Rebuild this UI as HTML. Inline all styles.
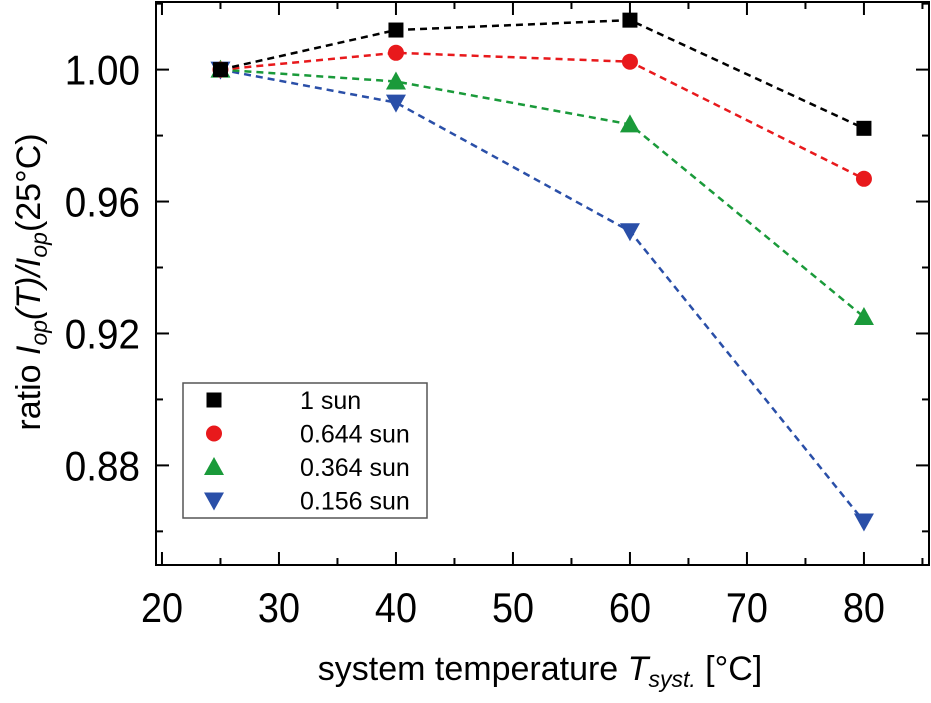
<!DOCTYPE html>
<html><head><meta charset="utf-8"><style>
body{margin:0;background:#fff}
svg text{font-family:"Liberation Sans",Arial,sans-serif}
</style></head><body>
<svg id="c" width="931" height="698" viewBox="0 0 931 698" xmlns="http://www.w3.org/2000/svg"></svg>
<script>
const temps=[25,40,60,80];
const sun1=[1.000,1.012,1.015,0.9822];
const sun644=[1.000,1.0051,1.0024,0.9669];
const sun364=[1.000,0.9964,0.9834,0.9250];
const sun156=[1.000,0.990,0.951,0.863];
const xTicks=[20,30,40,50,60,70,80];
const yTicks=[0.88,0.92,0.96,1.00];
const legendLabels=['1 sun','0.644 sun','0.364 sun','0.156 sun'];

const NS='http://www.w3.org/2000/svg';
const svg=document.getElementById('c');
const L=156,R=929,T=2,B=565;
const X0=19.49,X1=85.56,Y0=0.8498,Y1=1.0205;
const sx=v=>L+(v-X0)/(X1-X0)*(R-L);
const sy=v=>B-(v-Y0)/(Y1-Y0)*(B-T);
function el(tag,attrs,parent){const e=document.createElementNS(NS,tag);for(const k in attrs)e.setAttribute(k,attrs[k]);(parent||svg).appendChild(e);return e;}

const frame=el('rect',{x:L,y:T,width:R-L,height:B-T,fill:'none',stroke:'#000','stroke-width':2});



for(let v=20;v<=85;v+=5){
  const x=sx(v),len=(v%10===0)?13:7;
  const t1=el('line',{x1:x,x2:x,y1:B,y2:B-len,stroke:'#000','stroke-width':2});
  
  
  const t2=el('line',{x1:x,x2:x,y1:T,y2:T+len,stroke:'#000','stroke-width':2});
  
  
}
xTicks.forEach(v=>{
  const t=el('text',{x:sx(v),y:622,'font-size':42,'text-anchor':'middle',transform:`translate(${sx(v)},0) scale(0.9,1) translate(${-sx(v)},0)`});
  t.textContent=v;
  
  
});
for(let i=0;i<=8;i++){
  const v=0.86+i*0.02;const y=sy(v);const len=(i%2===1)?13:7;
  const t1=el('line',{x1:L,x2:L+len,y1:y,y2:y,stroke:'#000','stroke-width':2});
  
  
  const t2=el('line',{x1:R,x2:R-len,y1:y,y2:y,stroke:'#000','stroke-width':2});
  
  
}
yTicks.forEach(v=>{
  const t=el('text',{x:140,y:sy(v)+15,'font-size':42,'text-anchor':'end',transform:`translate(140,0) scale(0.92,1) translate(-140,0)`});
  t.textContent=v.toFixed(2);
  
  
});

const xt=el('text',{x:540,y:680,'font-size':34,'text-anchor':'middle'});
xt.innerHTML='system temperature <tspan font-style="italic">T</tspan><tspan font-style="italic" font-size="23" dy="7">syst.</tspan><tspan dy="-7"> [°C]</tspan>';


const yt=el('text',{x:0,y:0,'font-size':34,'text-anchor':'middle',transform:'translate(40,282) rotate(-90)'});
yt.innerHTML='ratio <tspan font-style="italic">I</tspan><tspan font-style="italic" font-size="23" dy="7">op</tspan><tspan dy="-7" font-style="italic">(T)/I</tspan><tspan font-style="italic" font-size="23" dy="7">op</tspan><tspan dy="-7">(25°C)</tspan>';



function marker(kind,x,y,color,g){
  let m;
  if(kind==='sq')m=el('rect',{x:x-7.5,y:y-7.5,width:15,height:15,fill:color},g);
  else if(kind==='ci')m=el('circle',{cx:x,cy:y,r:8,fill:color},g);
  else if(kind==='up')m=el('polygon',{points:`${x},${y-10} ${x-10},${y+8} ${x+10},${y+8}`,fill:color},g);
  else m=el('polygon',{points:`${x},${y+10} ${x-10},${y-8} ${x+10},${y-8}`,fill:color},g);
  
  
}
const series=[[sun1,'#000','sq','series-1-sun'],[sun644,'#e8191c','ci','series-0644-sun'],[sun364,'#1a9a3a','up','series-0364-sun'],[sun156,'#2a4fa8','dn','series-0156-sun']];
series.slice().reverse().forEach(([vals,col,kind,name])=>{
  const g=el('g',{});
  
  
  const p=el('polyline',{points:vals.map((v,i)=>sx(temps[i])+','+sy(v)).join(' '),fill:'none',stroke:col,'stroke-width':2.5,'stroke-dasharray':'7,5'},g);
  
  
  vals.forEach((v,i)=>marker(kind,sx(temps[i]),sy(v),col,g));
});

const lg=el('g',{});


const lb=el('rect',{x:183,y:383,width:244,height:135,fill:'#fff',stroke:'#555','stroke-width':1.5},lg);


series.forEach(([vals,col,kind],i)=>{
  const y=400+i*33.5;
  marker(kind,214,y,col,lg);
  const t=el('text',{x:300,y:y+9,'font-size':25},lg);
  t.textContent=legendLabels[i];
  
  
});
</script>
</body></html>
